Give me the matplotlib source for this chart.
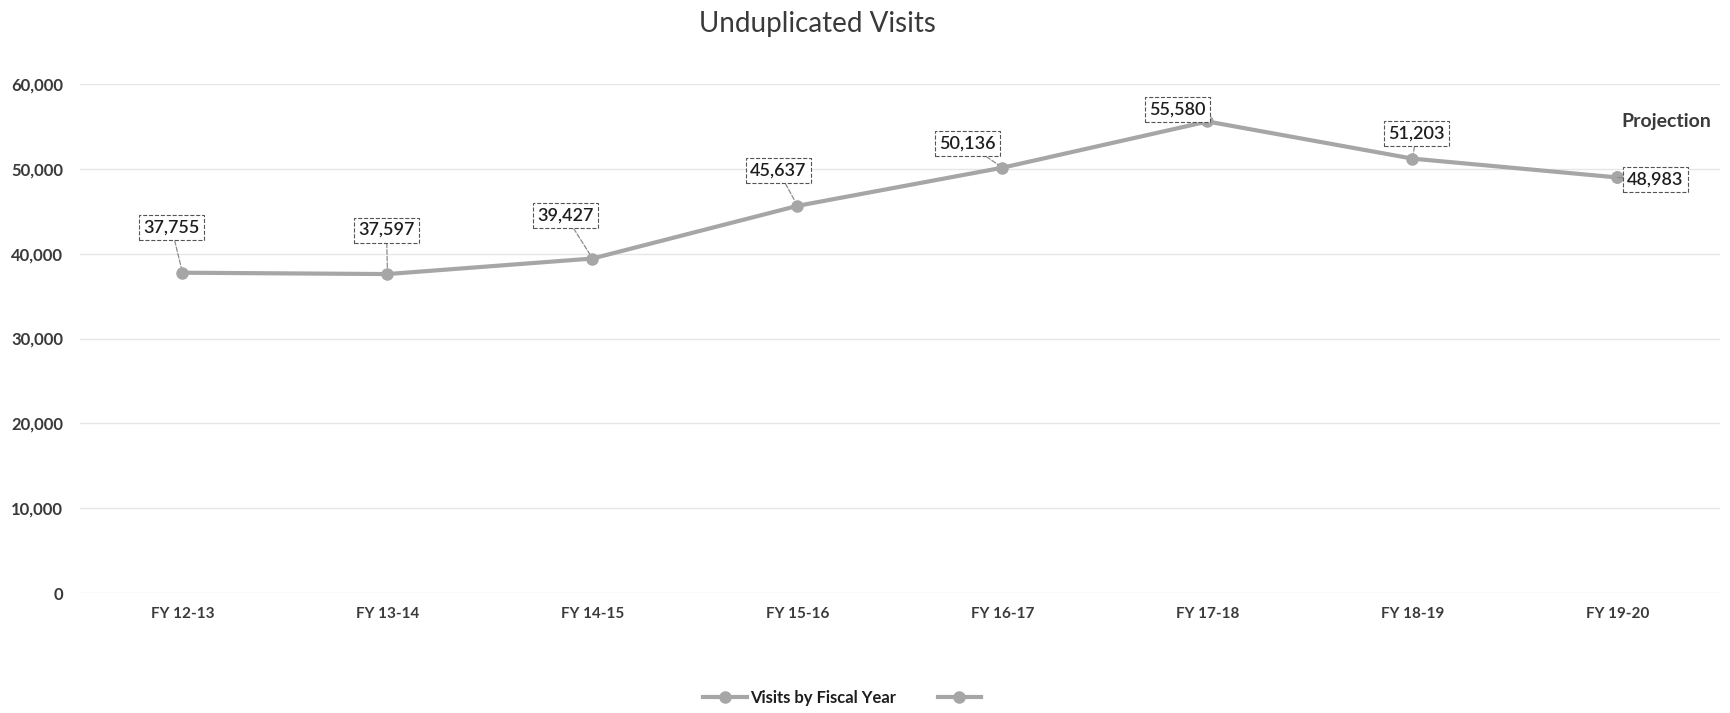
import numpy as np
import matplotlib.pyplot as plt
from matplotlib.ticker import FuncFormatter

plt.rcParams['font.family'] = ['Lato', 'DejaVu Sans']

# fiscal years and visit counts
years = ['FY 12-13', 'FY 13-14', 'FY 14-15', 'FY 15-16',
         'FY 16-17', 'FY 17-18', 'FY 18-19', 'FY 19-20']
visits = [37755, 37597, 39427, 45637, 50136, 55580, 51203, 48983]
# projected year only
projection = [np.nan] * 7 + [48983]

# label offsets in pixels (dx, dy) for each data label
offsets = [(-11, 45), (-1, 44), (-27, 43), (-19, 35),
           (-35, 24), (-30, 12), (4, 25), (38, -2)]

line_c = '#a6a6a6'
text_c = '#3a3a3a'

fig = plt.figure(figsize=(17.31, 7.13), dpi=100)
ax = fig.add_axes([80 / 1731, 1 - 593 / 713, 1640 / 1731, 509 / 713])

x = np.arange(len(years))
ax.plot(x, visits, color=line_c, lw=3, marker='o', ms=8,
        label='Visits by Fiscal Year', zorder=3)
ax.plot(x, projection, color=line_c, lw=3, marker='o', ms=8,
        label=' ', zorder=4)

for i, v in enumerate(visits):
    dx, dy = offsets[i]
    ax.annotate(f'{v:,}', (x[i], v), xytext=(dx, dy),
                textcoords='offset pixels', ha='center', va='center',
                fontsize=13, color='#1e1e1e', fontweight='semibold',
                bbox=dict(boxstyle='square,pad=0.25', fc='white',
                          ec='#555555', lw=0.8, ls='--'),
                arrowprops=dict(arrowstyle='-', color='#8c8c8c', lw=0.9,
                                ls='--', shrinkA=0, shrinkB=4),
                zorder=5)

ax.text(7.24, 55600, 'Projection', fontsize=14, fontweight='bold',
        color=text_c, ha='center', va='center')

ax.set_xlim(-0.5, 7.5)
ax.set_ylim(0, 60000)
ax.set_xticks(x)
ax.set_xticklabels(years, fontsize=11, fontweight='bold', color=text_c)
ax.set_yticks(np.arange(0, 60001, 10000))
ax.yaxis.set_major_formatter(FuncFormatter(lambda v, p: f'{int(v):,}'))
for lbl in ax.get_yticklabels():
    lbl.set_fontsize(12)
    lbl.set_fontweight('bold')
    lbl.set_color(text_c)
ax.tick_params(length=0, pad=10)
ax.tick_params(axis='y', pad=12)
ax.grid(axis='y', color='#e6e6e6', lw=1)
for s in ax.spines.values():
    s.set_visible(False)
ax.set_axisbelow(True)

fig.text(817 / 1731, 1 - 24 / 713, 'Unduplicated Visits', fontsize=20,
         color=text_c, ha='center', va='center')

leg = fig.legend(loc='center', bbox_to_anchor=(846 / 1731, 1 - 698 / 713),
                 ncol=2, frameon=False, fontsize=12, handlelength=2.6,
                 columnspacing=2.5, handletextpad=0.2)
for t in leg.get_texts():
    t.set_color('#1e1e1e')
    t.set_fontweight('bold')

fig.savefig('out.png', dpi=100, facecolor='white')
